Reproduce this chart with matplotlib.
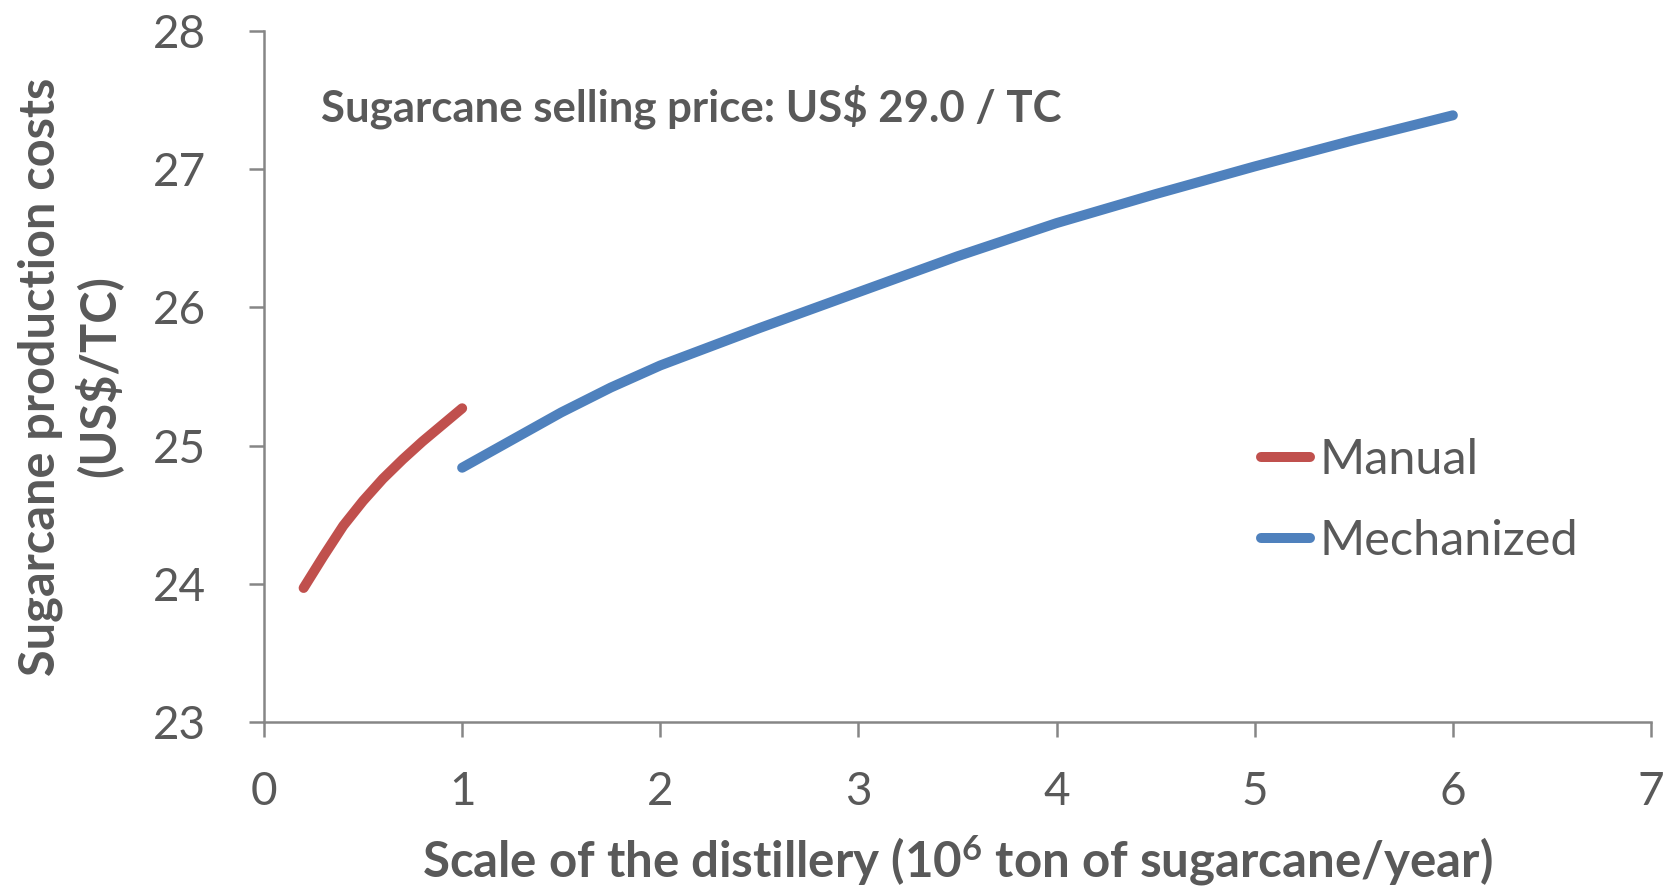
import matplotlib

matplotlib.use("Agg")
import matplotlib.pyplot as plt

# (scale in 10^6 t cane/year, cost in US$/TC)
manual_x = [0.2, 0.3, 0.4, 0.5, 0.6, 0.7, 0.8, 0.9, 1.0]
manual_y = [23.97, 24.20, 24.42, 24.60, 24.76, 24.90, 25.03, 25.15, 25.27]

mech_x = [1.0, 1.25, 1.5, 1.75, 2.0, 2.5, 3.0, 3.5, 4.0, 4.5, 5.0, 5.5, 6.0]
mech_y = [24.84, 25.04, 25.24, 25.42, 25.58, 25.85, 26.11, 26.37, 26.61,
          26.82, 27.02, 27.21, 27.39]

x_ticks = [0, 1, 2, 3, 4, 5, 6, 7]
y_ticks = [23, 24, 25, 26, 27, 28]

RED = "#C0504D"
BLUE = "#4F81BD"
TEXT = "#595959"
AXIS = "#868686"

plt.rcParams.update({
    "font.family": ["Lato", "DejaVu Sans"],
    "mathtext.fontset": "custom",
    "mathtext.rm": "Lato",
    "mathtext.bf": "Lato:bold",
    "mathtext.it": "Lato:italic",
})

fig = plt.figure(figsize=(16.78, 8.90), dpi=100)
ax = fig.add_axes([264 / 1678, 168 / 890, 1387 / 1678, 691 / 890])

ax.plot(manual_x, manual_y, color=RED, lw=7.2, solid_capstyle="round",
        solid_joinstyle="round", label="Manual")
ax.plot(mech_x, mech_y, color=BLUE, lw=7.2, solid_capstyle="round",
        solid_joinstyle="round", label="Mechanized")

ax.set_xlim(0, 7)
ax.set_ylim(23, 28)
ax.set_xticks(x_ticks)
ax.set_yticks(y_ticks)

for side in ("top", "right"):
    ax.spines[side].set_visible(False)
for side in ("left", "bottom"):
    ax.spines[side].set_color(AXIS)
    ax.spines[side].set_linewidth(1.8)

ax.tick_params(axis="both", direction="out", length=11, width=1.8, color=AXIS,
               labelsize=33, labelcolor=TEXT)
ax.tick_params(axis="x", pad=24)
ax.tick_params(axis="y", pad=31)

ax.set_xlabel(r"Scale of the distillery (10$^{\mathbf{6}}$ ton of sugarcane/year)",
              fontsize=35.5, fontweight="bold", color=TEXT)
ax.xaxis.label.set_va("center")
ax.xaxis.set_label_coords(0.5, -0.201)

ax.set_ylabel("Sugarcane production costs\n(US$/TC)", fontsize=35,
              fontweight="bold", color=TEXT, linespacing=1.25)
ax.yaxis.label.set_va("center")
ax.yaxis.set_label_coords(-0.140, 0.5)

ax.text(0.29, 27.45, "Sugarcane selling price: US$ 29.0 / TC", fontsize=31.5,
        fontweight="bold", color=TEXT, va="center", ha="left")

leg = ax.legend(loc="center left", bbox_to_anchor=(0.719, 0.320), frameon=False,
                fontsize=35, handlelength=1.0, handletextpad=0.2,
                labelspacing=0.76, borderaxespad=0, borderpad=0)
for t in leg.get_texts():
    t.set_color(TEXT)

fig.savefig("out.png", dpi=100)
